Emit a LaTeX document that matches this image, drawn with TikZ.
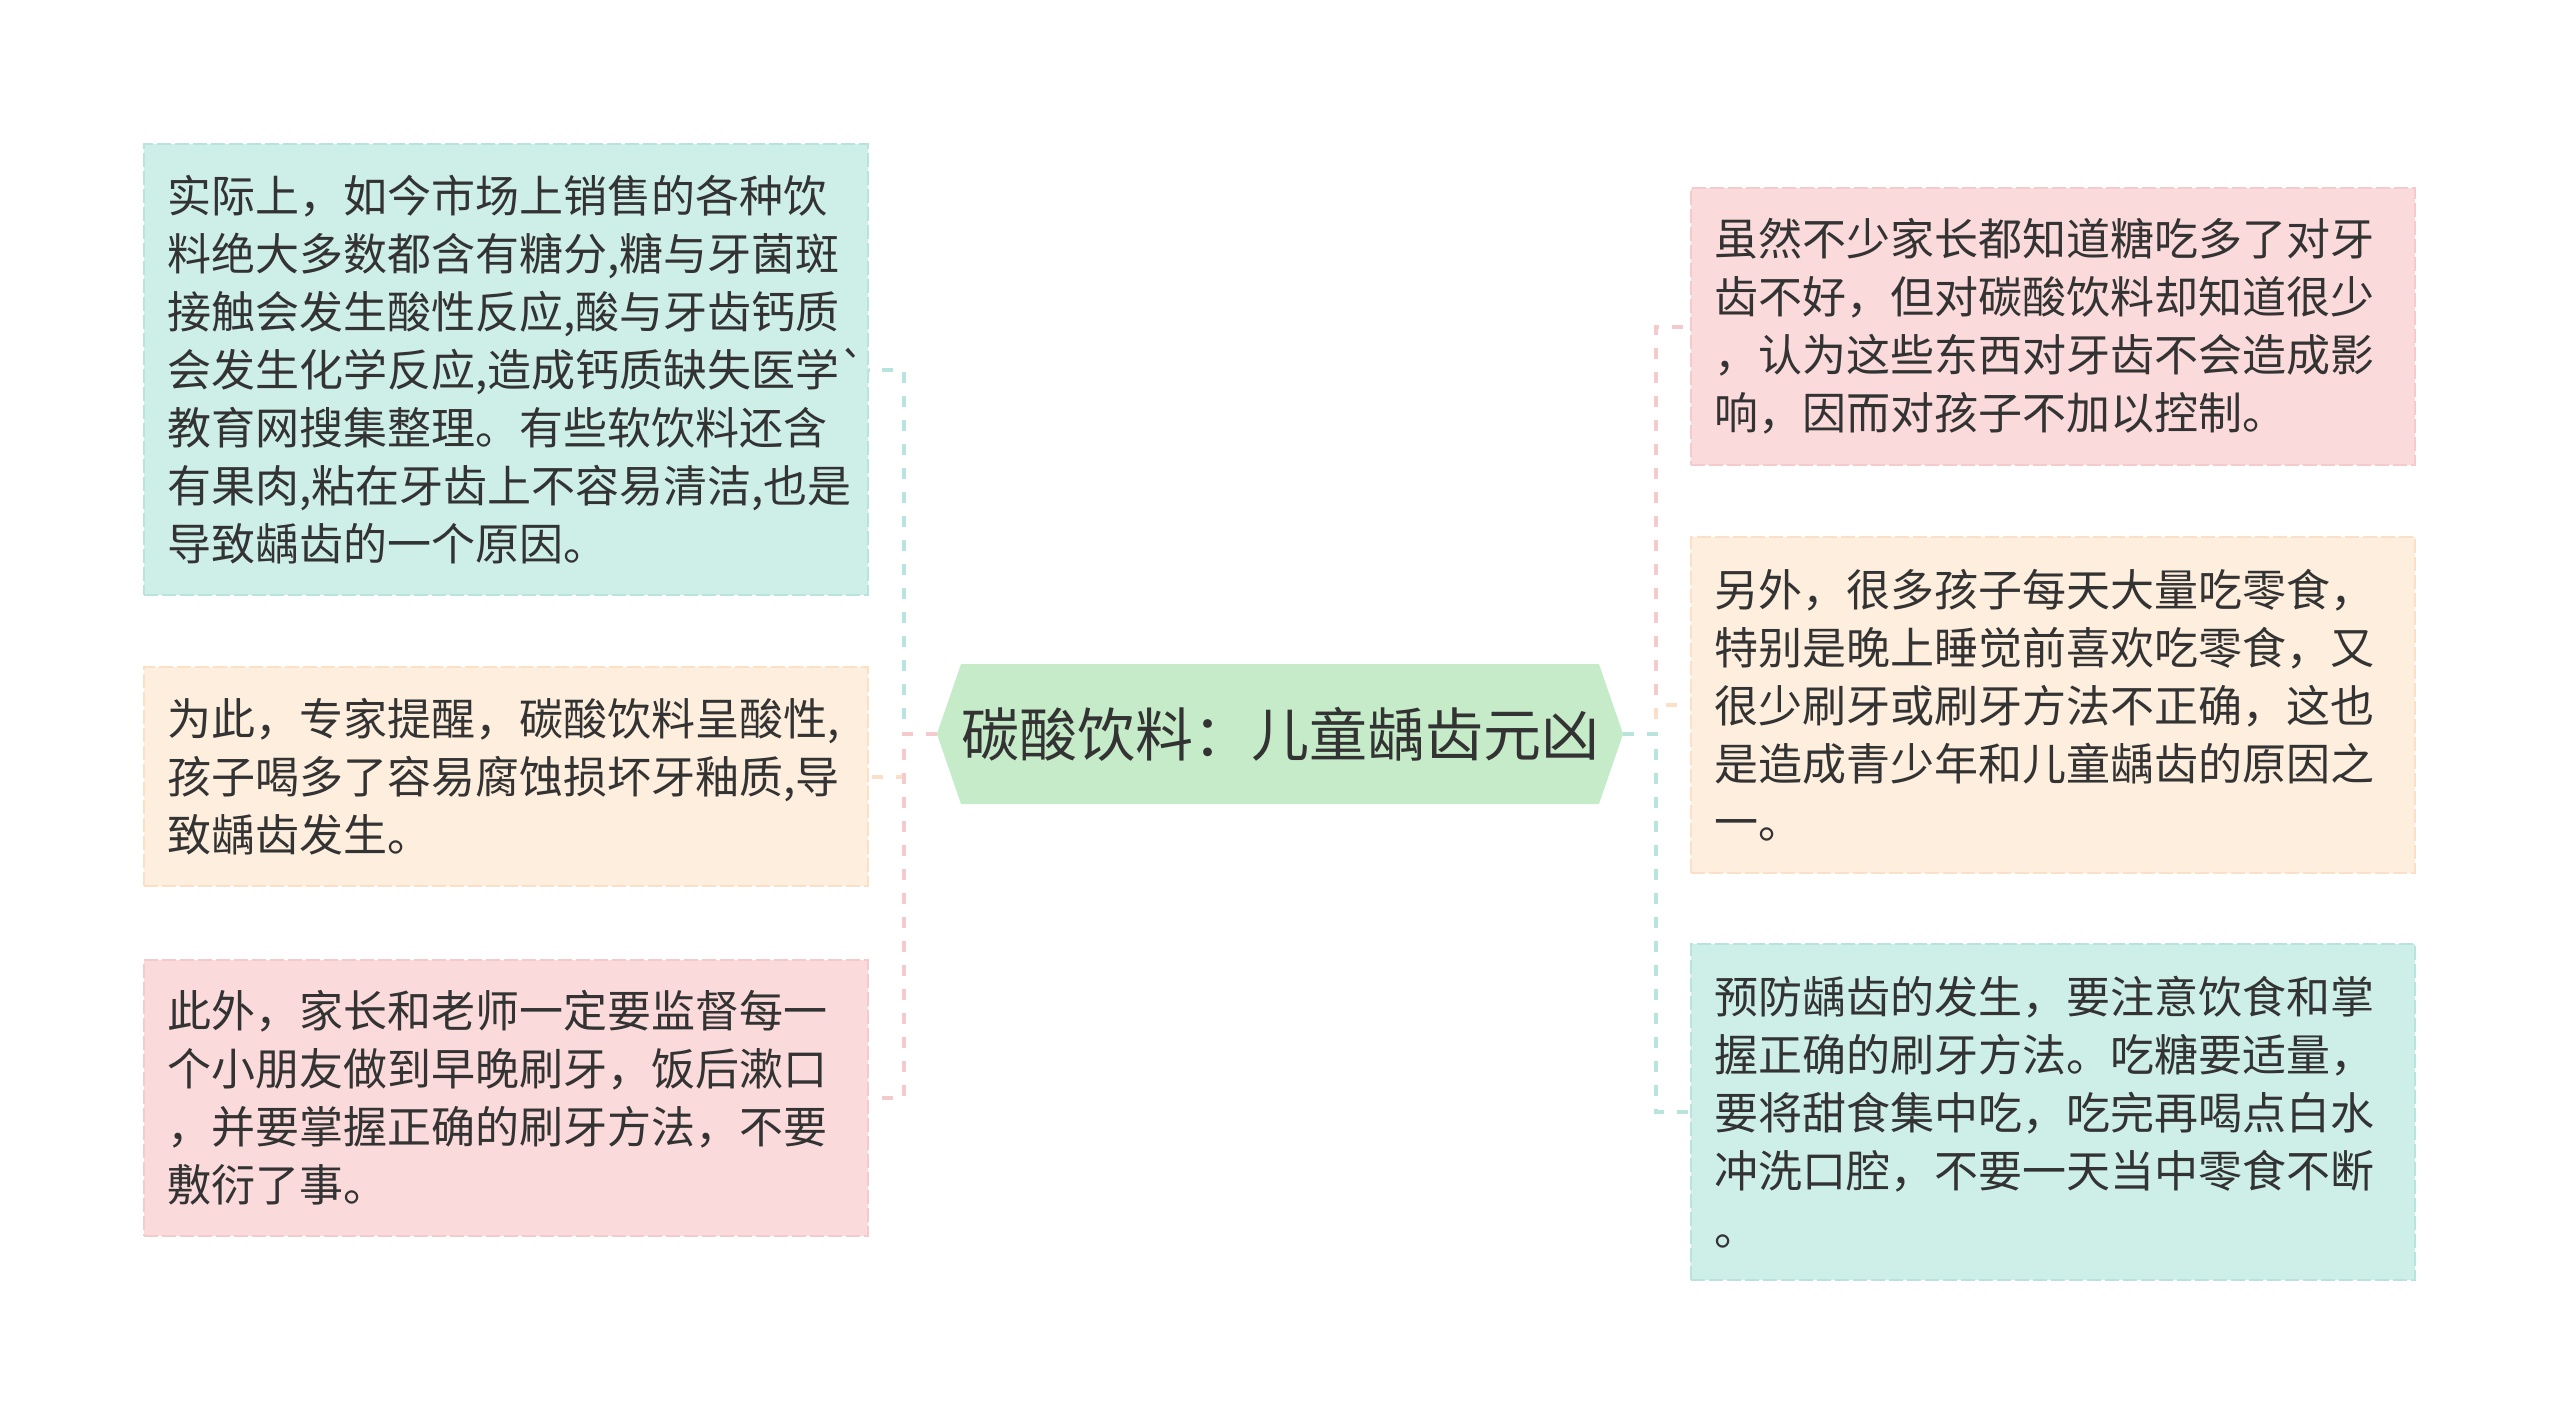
\documentclass[tikz,border=0pt]{standalone}
\usepackage{fontspec}
\setmainfont{Noto Sans CJK SC}
\usetikzlibrary{shapes.symbols}
\definecolor{tealBg}{HTML}{CEEFE8}
\definecolor{tealLn}{HTML}{B9E4DE}
\definecolor{peachBg}{HTML}{FDEEDD}
\definecolor{peachLn}{HTML}{FBE0C7}
\definecolor{pinkBg}{HTML}{FADADA}
\definecolor{pinkLn}{HTML}{F5CACD}
\definecolor{rootBg}{HTML}{C6EBC9}
\definecolor{txt}{HTML}{333333}

\begin{document}
\begin{tikzpicture}[x=1pt,y=-1pt,
  leaf/.style={rectangle, draw=#1Ln, fill=#1Bg, line width=1.5pt, dash pattern=on 14pt off 4pt,
    text width=678pt, inner xsep=23pt, inner ysep=0pt, align=left, text=txt,
    font=\fontsize{44}{58}\selectfont},
  link/.style={draw=#1Ln, line width=4pt, dash pattern=on 11pt off 13pt},
  root/.style={signal, signal to=west and east, signal pointer angle=142, fill=rootBg,
    minimum width=672pt, minimum height=140pt, inner sep=0pt, text=txt,
    font=\fontsize{58}{66}\selectfont}]
  \useasboundingbox (0,0) rectangle (2560,1425);

  \node[root] (ctr) at (1280,734) {碳酸饮料：儿童龋齿元凶};

  \node[leaf=teal, minimum height=451pt] (l1) at (506,369.5) {实际上，如今市场上销售的各种饮\\料绝大多数都含有糖分,糖与牙菌斑\\接触会发生酸性反应,酸与牙齿钙质\\会发生化学反应,造成钙质缺失医学\textasciigrave\\教育网搜集整理。有些软饮料还含\\有果肉,粘在牙齿上不容易清洁,也是\\导致龋齿的一个原因。};
  \node[leaf=peach, minimum height=219pt] (l2) at (506,776.5) {为此，专家提醒，碳酸饮料呈酸性,\\孩子喝多了容易腐蚀损坏牙釉质,导\\致龋齿发生。};
  \node[leaf=pink, minimum height=276pt] (l3) at (506,1098) {此外，家长和老师一定要监督每一\\个小朋友做到早晚刷牙，饭后漱口\\，并要掌握正确的刷牙方法，不要\\敷衍了事。};

  \node[leaf=pink, minimum height=277pt] (r1) at (2053,326.5) {虽然不少家长都知道糖吃多了对牙\\齿不好，但对碳酸饮料却知道很少\\，认为这些东西对牙齿不会造成影\\响，因而对孩子不加以控制。};
  \node[leaf=peach, minimum height=336pt] (r2) at (2053,705) {另外，很多孩子每天大量吃零食，\\特别是晚上睡觉前喜欢吃零食，又\\很少刷牙或刷牙方法不正确，这也\\是造成青少年和儿童龋齿的原因之\\一。};
  \node[leaf=teal, minimum height=336pt] (r3) at (2053,1112) {预防龋齿的发生，要注意饮食和掌\\握正确的刷牙方法。吃糖要适量，\\要将甜食集中吃，吃完再喝点白水\\冲洗口腔，不要一天当中零食不断\\。};

  \draw[link=teal] (ctr.west) -- ++(-33,0) |- (l1.east);
  \draw[link=peach] (ctr.west) -- ++(-33,0) |- (l2.east);
  \draw[link=pink] (ctr.west) -- ++(-33,0) |- (l3.east);
  \draw[link=pink] (ctr.east) -- ++(33,0) |- (r1.west);
  \draw[link=peach] (ctr.east) -- ++(33,0) |- (r2.west);
  \draw[link=teal] (ctr.east) -- ++(33,0) |- (r3.west);
\end{tikzpicture}
\end{document}
